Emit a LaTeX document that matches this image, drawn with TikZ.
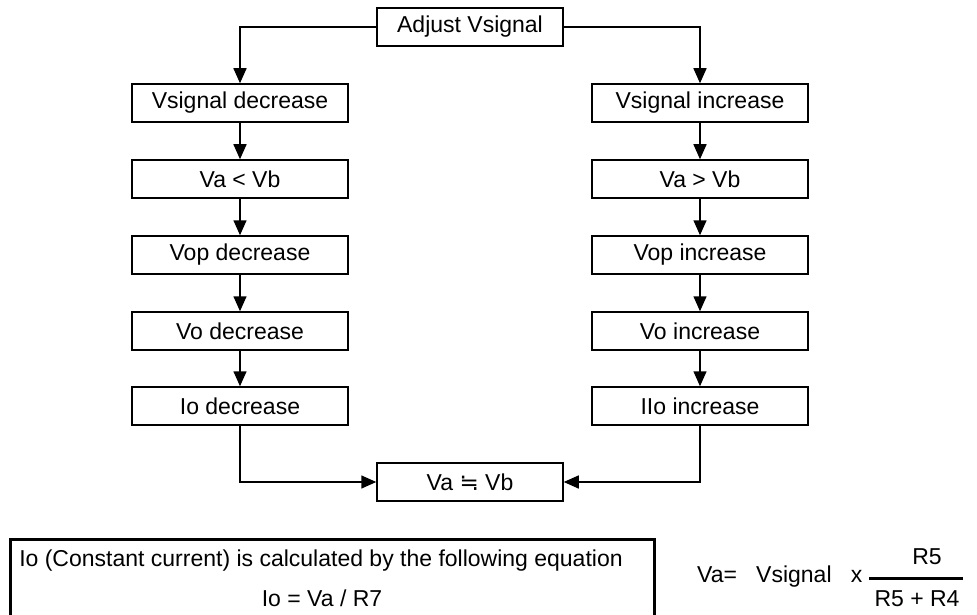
\documentclass[tikz,border=0pt]{standalone}
\usepackage{fontspec}
\setmainfont{Liberation Sans}
\newfontfamily\symfont{DejaVu Sans}
\usetikzlibrary{arrows.meta}

\begin{document}
\begin{tikzpicture}[x=1pt,y=-1pt,
  font=\fontsize{23}{27}\selectfont,
  box/.style={draw,line width=1.5pt,minimum width=216pt,minimum height=38pt,inner sep=0pt},
  midbox/.style={box,minimum width=186pt},
  flow/.style={line width=1.5pt,-{Triangle[length=15pt,width=13pt]}}]
\useasboundingbox (0,0) rectangle (977,615);
% Top
\node [midbox] (adjust) at (470,27) {Adjust Vsignal};
%
\node [box] (sigdec) at (240,103) {Vsignal decrease};
\node [box] (valess) at (240,179) {Va < Vb};
\node [box] (vopdec) at (240,255) {Vop decrease};
\node [box] (vodec) at (240,331) {Vo decrease};
\node [box] (iodec) at (240,406) {Io decrease};
%
\node [box] (siginc) at (700,103) {Vsignal increase};
\node [box] (vamore) at (700,179) {Va > Vb};
\node [box] (vopinc) at (700,255) {Vop increase};
\node [box] (voinc) at (700,331) {Vo increase};
\node [box] (ioinc) at (700,406) {IIo increase};
%
\node [midbox] (equal) at (470,482) {Va {\symfont ≒} Vb};
% Arrows
\draw [flow] (adjust.west) -| (sigdec.north);
\draw [flow] (adjust.east) -| (siginc.north);
\draw [flow] (sigdec) -- (valess);
\draw [flow] (valess) -- (vopdec);
\draw [flow] (vopdec) -- (vodec);
\draw [flow] (vodec) -- (iodec);
\draw [flow] (siginc) -- (vamore);
\draw [flow] (vamore) -- (vopinc);
\draw [flow] (vopinc) -- (voinc);
\draw [flow] (voinc) -- (ioinc);
\draw [flow] (iodec.south) |- (equal.west);
\draw [flow] (ioinc.south) |- (equal.east);
% Note box
\draw [line width=3pt] (10,630) -- (10,539) -- (654,539) -- (654,630);
\node (note) at (321,561) {Io (Constant current) is calculated by the following equation};
\node (iolaw) at (322,598) {Io = Va / R7};
% Va formula
\node [anchor=west,inner sep=0pt] (vaeq) at (697,577) {Va=~~~Vsignal~~~x};
\node (numer) at (927,557) {R5};
\node (denom) at (917,599) {R5 + R4};
\draw [line width=3pt] (869,578) -- (963,578);
%
\end{tikzpicture}
\end{document}
